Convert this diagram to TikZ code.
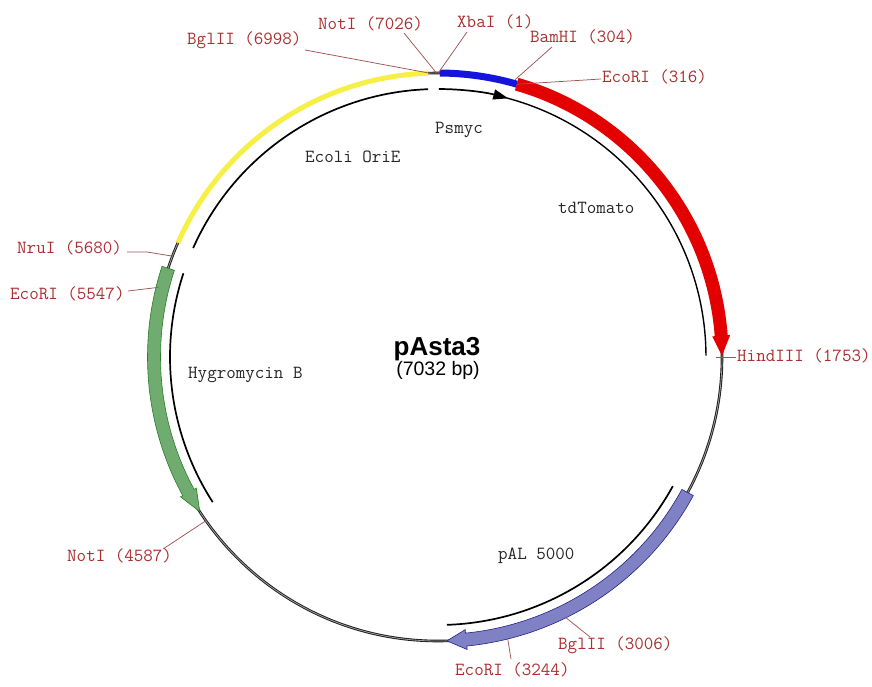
\documentclass[tikz,border=0pt]{standalone}
\usepackage{fontspec}
\setmainfont{Liberation Sans}
\usetikzlibrary{arrows.meta}
\definecolor{lab}{RGB}{170,48,48}
\definecolor{leader}{RGB}{160,85,85}
\definecolor{redf}{RGB}{226,0,0}
\definecolor{bluef}{RGB}{20,20,220}
\definecolor{yellowf}{RGB}{246,240,70}
\definecolor{greenf}{RGB}{112,172,112}
\definecolor{greend}{RGB}{40,125,40}
\definecolor{palf}{RGB}{128,128,196}
\definecolor{pald}{RGB}{35,35,140}
\newcommand\bandarrow[6]{%
  \path[#6] (#1:{284+#4}) arc[start angle=#1, end angle=#2, radius={284+#4}]
    -- (#2:{284+#5}) -- (#3:284) -- (#2:{284-#5}) -- (#2:{284-#4})
    arc[start angle=#2, end angle=#1, radius={284-#4}] -- cycle;}
\tikzset{
  labtxt/.style={font=\ttfamily\fontsize{18.5}{20}\selectfont, text=lab, inner sep=0pt, anchor=base west},
  feattxt/.style={font=\ttfamily\fontsize{18.5}{20}\selectfont, text=black!85, inner sep=0pt, anchor=base west},
  leaderline/.style={draw=leader, line width=0.75pt},
  innerarc/.style={draw=black, line width=1.7pt},
}
\begin{document}
\begin{tikzpicture}[x=1pt,y=-1pt]
\useasboundingbox (0,0) rectangle (872,687);
\fill[white] (0,0) rectangle (872,687);
\begin{scope}[shift={(438,357)}]
  % backbone
  \draw[line width=2.6pt, black!90] (0,0) circle[radius=284];
  \draw[line width=0.8pt, gray!75] (0,0) circle[radius=284];
  % inner feature arcs
  \draw[innerarc, -{Triangle[length=15pt,width=10pt]}] (-89.8:268) arc[start angle=-89.8, end angle=-74.8, radius=268];
  \draw[innerarc, line width=1.4pt] (-75.2:268) arc[start angle=-75.2, end angle=-0.3, radius=268];
  \draw[innerarc] (204:268) arc[start angle=204, end angle=267.9, radius=268];
  \draw[innerarc] (147.2:268) arc[start angle=147.2, end angle=198.2, radius=268];
  \draw[innerarc] (28.8:268) arc[start angle=28.8, end angle=88.1, radius=268];
  % features on the backbone
  \draw[line width=5pt, yellowf] (203.7:284) arc[start angle=203.7, end angle=268.0, radius=284];
  \draw[line width=7pt, bluef] (-89.6:284) arc[start angle=-89.6, end angle=-73.9, radius=284];
  \bandarrow{-73.9}{-4.3}{-0.26}{6.5}{9}{fill=redf}
  \bandarrow{198.2}{151.5}{147.0}{6.5}{9}{fill=greenf, draw=greend, line width=0.6pt}
  \bandarrow{28.5}{84.3}{88.2}{6.5}{10}{fill=palf, draw=pald, line width=0.6pt}
  % sites
  \coordinate (sBglIIa) at (268.26:284);
  \coordinate (sNotIa) at (269.69:284);
  \coordinate (sXbaI) at (-89.95:284);
  \coordinate (sBamHI) at (-74.44:288);
  \coordinate (sEcoRIa) at (-73.82:284);
  \coordinate (sHindIII) at (-0.26:284);
  \coordinate (sBglIIb) at (63.9:290);
  \coordinate (sEcoRIb) at (76.1:290);
  \coordinate (sNotIb) at (144.8:284);
  \coordinate (sEcoRIc) at (194.0:288);
  \coordinate (sNruI) at (200.8:284);
\end{scope}
% labels
\node[labtxt] (lBglIIa) at (187,45) {BglII (6998)};
\node[labtxt] (lNotIa) at (318,30) {NotI (7026)};
\node[labtxt] (lXbaI) at (457,28) {XbaI (1)};
\node[labtxt] (lBamHI) at (530,43) {BamHI (304)};
\node[labtxt] (lEcoRIa) at (602,83) {EcoRI (316)};
\node[labtxt] (lHindIII) at (737,361) {HindIII (1753)};
\node[labtxt] (lNruI) at (17,253) {NruI (5680)};
\node[labtxt] (lEcoRIc) at (10,299) {EcoRI (5547)};
\node[labtxt] (lNotIb) at (67,561) {NotI (4587)};
\node[labtxt] (lBglIIb) at (558,649) {BglII (3006)};
\node[labtxt] (lEcoRIb) at (455,675) {EcoRI (3244)};
% label-side ends of leader lines
\coordinate (eBglIIa) at (305,50);
\coordinate (eNotIa) at (404,33);
\coordinate (eXbaI) at (467,32);
\coordinate (eBamHI) at (552,47);
\coordinate (eEcoRIa) at (601,79);
\coordinate (eHindIIIa) at (716,357);
\coordinate (eHindIIIb) at (736,357);
\coordinate (eNruI) at (127,252);
\coordinate (kNruI) at (147,252);
\coordinate (eEcoRIc) at (128,291);
\coordinate (eNotIb) at (163,549);
\coordinate (eBglIIb) at (590,637);
\coordinate (eEcoRIb) at (511,659);
% leader lines
\draw[leaderline] (eBglIIa) -- (sBglIIa);
\draw[leaderline] (eNotIa) -- (sNotIa);
\draw[leaderline] (eXbaI) -- (sXbaI);
\draw[leaderline] (eBamHI) -- (sBamHI);
\draw[leaderline] (sEcoRIa) -- (eEcoRIa);
\draw[leaderline] (eHindIIIa) -- (eHindIIIb);
\draw[leaderline] (eNruI) -- (kNruI) -- (sNruI);
\draw[leaderline] (eEcoRIc) -- (sEcoRIc);
\draw[leaderline] (eNotIb) -- (sNotIb);
\draw[leaderline] (sBglIIb) -- (eBglIIb);
\draw[leaderline] (sEcoRIb) -- (eEcoRIb);
% feature names
\node[feattxt] (tPsmyc) at (435,134) {Psmyc};
\node[feattxt] (tOri) at (305,163) {Ecoli OriE};
\node[feattxt] (tTom) at (558,213) {tdTomato};
\node[feattxt] (tHyg) at (188,378) {Hygromycin B};
\node[feattxt] (tPAL) at (498,559) {pAL 5000};
% title
\node[font=\bfseries\fontsize{26}{28}\selectfont, inner sep=0pt, anchor=base] (title) at (437,355) {pAsta3};
\node[font=\fontsize{19.5}{21}\selectfont, inner sep=0pt, anchor=base] (size) at (438,375) {(7032 bp)};
\end{tikzpicture}
\end{document}
